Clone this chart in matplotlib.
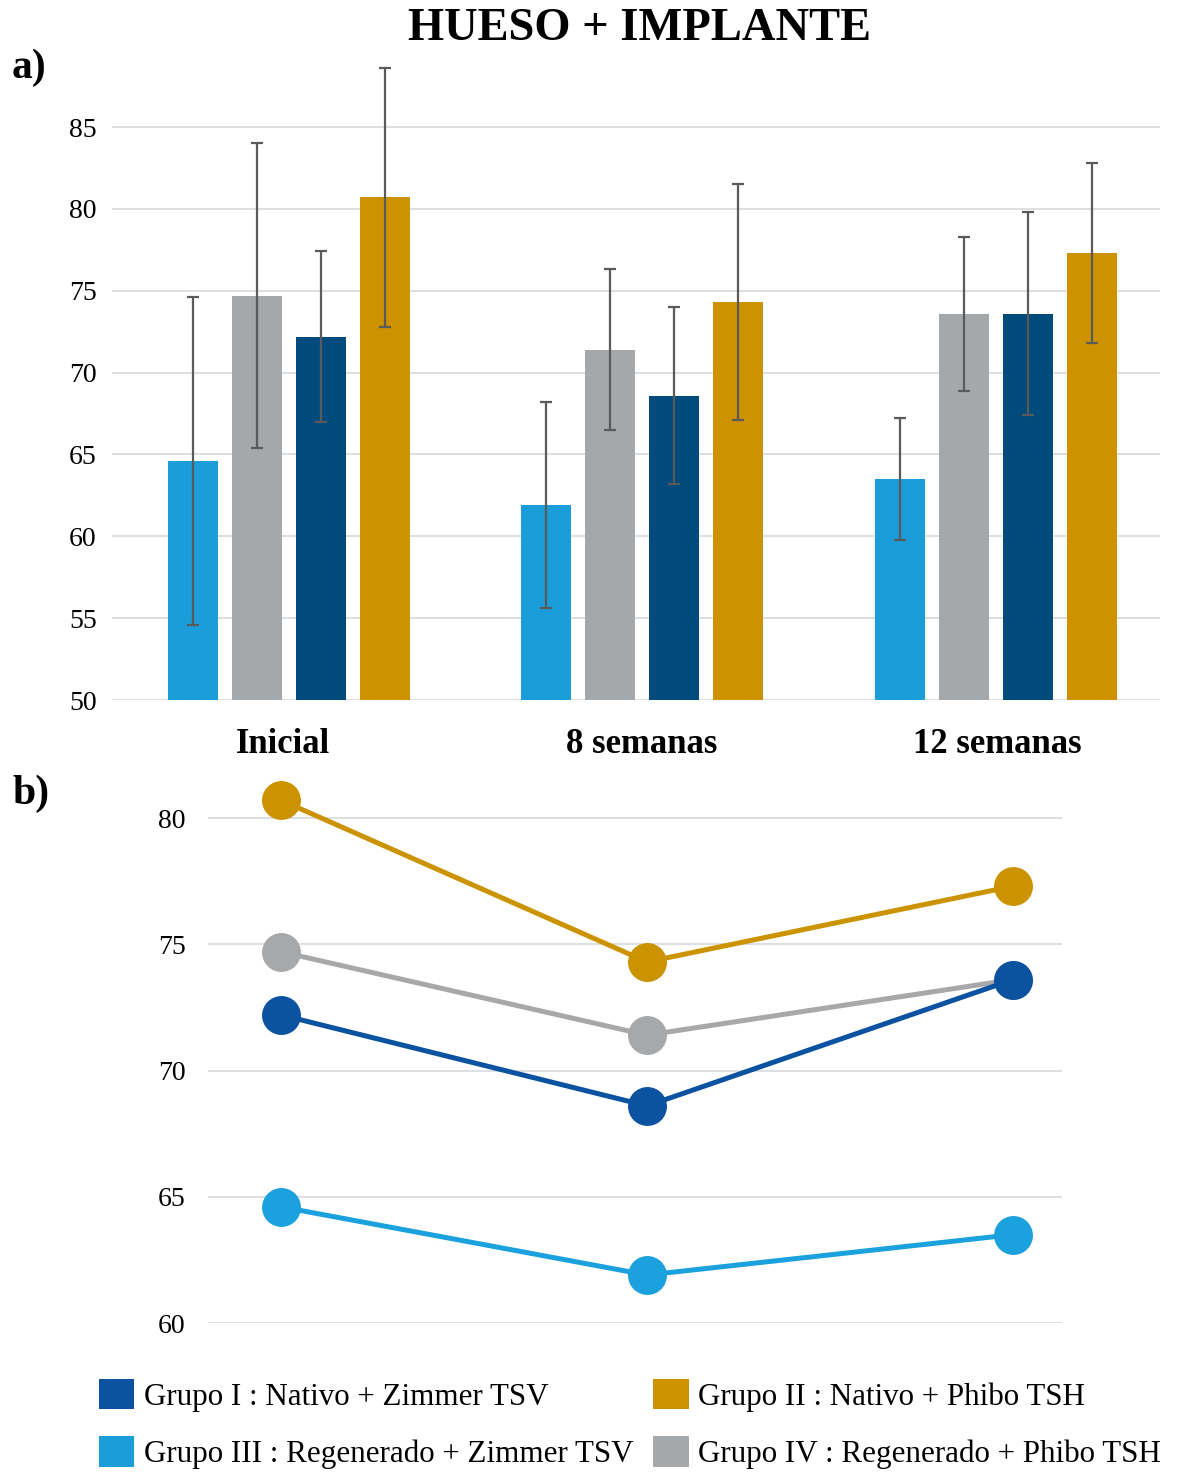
import numpy as np
import matplotlib
matplotlib.use("Agg")
import matplotlib.pyplot as plt
from matplotlib.patches import Patch

plt.rcParams.update({"font.family": "Liberation Serif"})

periods = ["Inicial", "8 semanas", "12 semanas"]
groups = ["Grupo III : Regenerado + Zimmer TSV", "Grupo IV : Regenerado + Phibo TSH",
          "Grupo I : Nativo + Zimmer TSV", "Grupo II : Nativo + Phibo TSH"]

# mean and SD per group (bar order: III, IV, I, II)
g3_mean = [64.6, 61.9, 63.5]
g3_sd = [10.0, 6.3, 3.7]
g4_mean = [74.7, 71.4, 73.6]
g4_sd = [9.3, 4.9, 4.7]
g1_mean = [72.2, 68.6, 73.6]
g1_sd = [5.2, 5.4, 6.2]
g2_mean = [80.7, 74.3, 77.3]
g2_sd = [7.9, 7.2, 5.5]

means = [g3_mean, g4_mean, g1_mean, g2_mean]
sds = [g3_sd, g4_sd, g1_sd, g2_sd]
bar_colors = ["#1B9DD9", "#A5A8AA", "#004B7C", "#CC9200"]
line_colors = ["#1BA1DD", "#A6A8AA", "#0B52A0", "#CC9300"]

W, H = 1177, 1475
fig = plt.figure(figsize=(W / 100, H / 100), dpi=100)
GRID = "#DADDE0"

# ---- a) bars with SD ----
ax1 = fig.add_axes([112 / W, 1 - 700 / H, (1160 - 112) / W, (700 - 61.6) / H])
x = np.arange(len(periods))
step, bw = 0.181, 0.142
for i, (m, s, c) in enumerate(zip(means, sds, bar_colors)):
    xs = x + (i - 1.5) * step
    ax1.bar(xs, np.array(m) - 50, bottom=50, width=bw, color=c, zorder=2)
    ax1.errorbar(xs, m, yerr=s, fmt="none", ecolor="#5A5A5A", elinewidth=1.6,
                 capsize=4.5, capthick=1.6, zorder=3)
ax1.set_ylim(50, 89)
ax1.set_xlim(-0.5, 2.465)
ax1.set_yticks(np.arange(50, 86, 5))
ax1.yaxis.grid(True, color=GRID, lw=1.3, zorder=0)
ax1.set_xticks([-0.016, 1.0, 2.004])
ax1.set_xticklabels(periods, fontsize=25, fontweight="bold")
ax1.tick_params(axis="x", length=0, pad=20)
ax1.tick_params(axis="y", length=0, labelsize=20, pad=11)
for s in ax1.spines.values():
    s.set_visible(False)

# ---- b) means over time ----
ax2 = fig.add_axes([208 / W, 1 - 1323 / H, (1062 - 208) / W, (1323 - 767.5) / H])
for m, c in zip(means, line_colors):
    ax2.plot(x, m, "-o", color=c, lw=3.6, ms=27, clip_on=False, zorder=3)
ax2.set_ylim(60, 82)
ax2.set_xlim(-0.2, 2.134)
ax2.set_yticks(np.arange(60, 81, 5))
ax2.set_xticks([])
ax2.yaxis.grid(True, color=GRID, lw=1.3, zorder=0)
ax2.tick_params(axis="y", length=0, labelsize=20, pad=16)
for s in ax2.spines.values():
    s.set_visible(False)

fig.text(640 / W, 1 - 29 / H, "HUESO + IMPLANTE", ha="center", va="center",
         fontsize=33.5, fontweight="bold")
fig.text(12 / W, 1 - 68 / H, "a)", ha="left", va="center", fontsize=30, fontweight="bold")
fig.text(12 / W, 1 - 794 / H, "b)", ha="left", va="center", fontsize=30, fontweight="bold")

# legend: column-major, I / III then II / IV
order = [2, 0, 3, 1]
handles = [Patch(facecolor=(line_colors[2] if k == 2 else bar_colors[k])) for k in order]
labels = [groups[k] for k in order]
fig.legend(handles, labels, ncol=2, loc="upper left", bbox_to_anchor=(77 / W, 1 - 1357 / H),
           frameon=False, fontsize=22.3, handlelength=1.15, handleheight=1.15,
           handletextpad=0.3, columnspacing=0.65, labelspacing=0.8, borderpad=0.2)

fig.savefig("out.png", dpi=100, facecolor="white")
